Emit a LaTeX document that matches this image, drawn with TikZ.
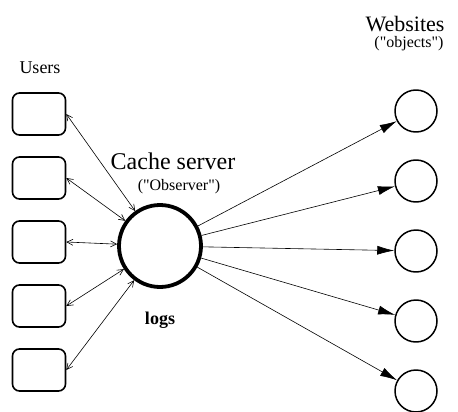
\documentclass[tikz,border=0pt]{standalone}
\usepackage{fontspec}
\setmainfont{Liberation Serif}
\usetikzlibrary{arrows.meta}
\begin{document}
\begin{tikzpicture}[x=1pt,y=-1pt, line join=round, line cap=round,
	user/.style={draw,line width=1.6pt,rounded corners=7pt,minimum width=53pt,minimum height=42pt},
	site/.style={draw,circle,line width=1.5pt,minimum size=42pt,inner sep=0pt},
	server/.style={draw,circle,line width=3.8pt,minimum size=82pt,inner sep=0pt},
	link/.style={{Straight Barb[length=6pt,width=6pt]}-{Straight Barb[length=6pt,width=6pt]}, line width=.6pt},
	fetch/.style={-{Latex[length=17pt,width=9pt]}, line width=.6pt},
	lbl/.style={inner sep=1pt}]
	\useasboundingbox (0,0) rectangle (458,412);
	\node[server] (srv) at (160,246) {};
	\foreach \i/\p/\q in {1/114/111,2/178/181,3/242/251,4/306/321,5/370/391}
	{
		\node[user] (u\i) at (39,\p) {};
		\node[site] (w\i) at (416,\q) {};
		\draw[link] (u\i.east) -- (srv);
		\draw[fetch] (srv) -- (w\i);
	}
	% labels
	\node[lbl,font=\fontsize{18}{20}\selectfont] (users) at (40,68) {Users};
	\node[lbl,font=\fontsize{24}{26}\selectfont] (cachelbl) at (173,161) {Cache server};
	\node[lbl,font=\fontsize{16}{18}\selectfont] (obslbl) at (179,187) {(\textquotedbl Observer\textquotedbl)};
	\node[lbl,font=\bfseries\fontsize{18}{20}\selectfont] (logs) at (160,320) {logs};
	\node[lbl,font=\fontsize{22}{24}\selectfont] (weblbl) at (405,24) {Websites};
	\node[lbl,font=\fontsize{16}{18}\selectfont] (objlbl) at (409,44) {(\textquotedbl objects\textquotedbl)};
\end{tikzpicture}
\end{document}
